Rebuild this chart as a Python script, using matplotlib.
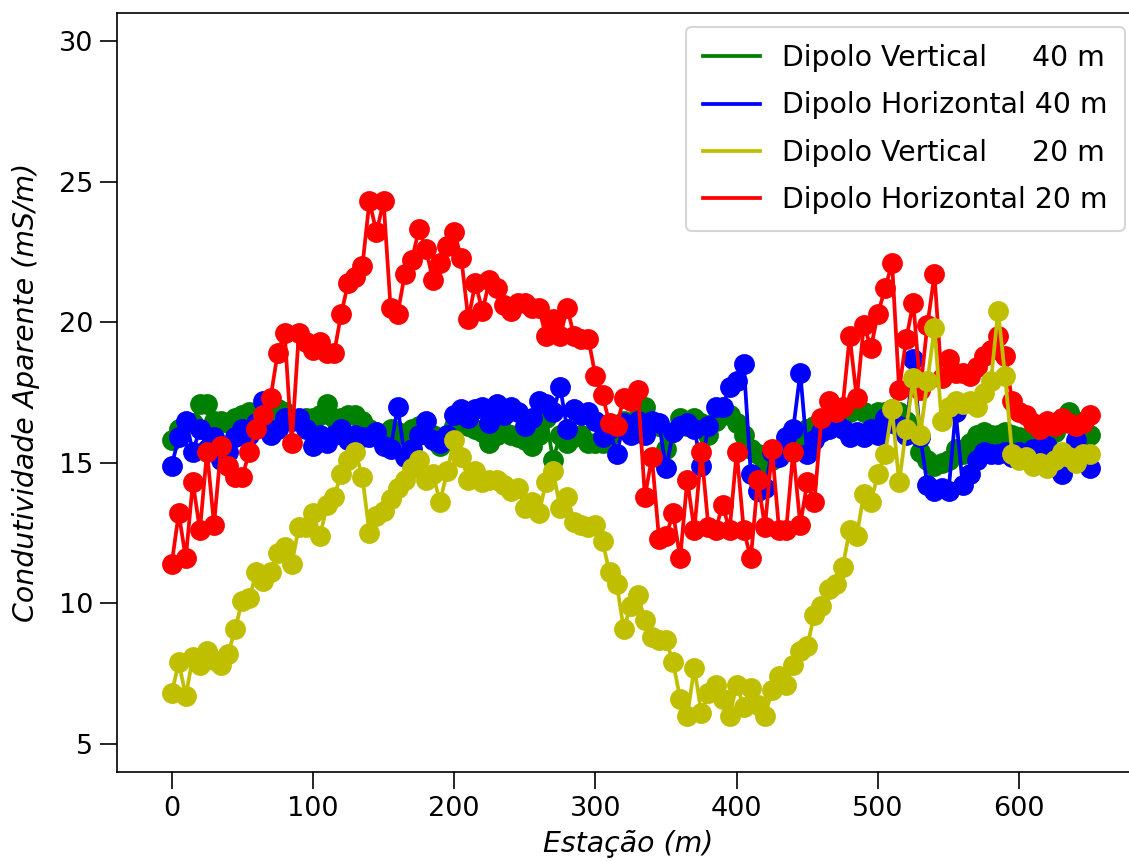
import numpy as np
import matplotlib
matplotlib.use("Agg")
import matplotlib.pyplot as plt
from matplotlib.lines import Line2D

# === DATA ===
estacao = np.arange(0, 655, 5)  # station every 5 m

dv_40 = [15.8, 16.2, 16.4, 16.4, 17.1, 17.1, 16.5, 16.5, 16.4, 16.6,
         16.7, 16.8, 16.7, 16.6, 16.8, 16.9, 16.8, 16.6, 16.5, 16.6,
         16.6, 16.7, 17.1, 16.6, 16.6, 16.7, 16.7, 16.5, 16.2, 16.1,
         16.0, 16.2, 16.1, 16.0, 16.2, 16.3, 16.2, 16.0, 15.6, 16.0,
         16.3, 16.4, 16.3, 16.2, 16.1, 15.7, 16.0, 16.1, 16.0, 15.9,
         15.8, 15.6, 16.0, 16.6, 15.1, 16.0, 15.7, 15.9, 16.0, 15.7,
         15.7, 15.7, 16.0, 16.2, 16.5, 16.3, 16.6, 17.0, 16.4, 16.3,
         15.5, 16.1, 16.6, 16.3, 16.6, 16.4, 16.0, 16.5, 16.7, 16.7,
         16.4, 16.0, 15.5, 15.3, 15.0, 15.1, 15.4, 15.6, 15.8, 16.0,
         16.2, 16.3, 16.5, 16.6, 16.6, 16.7, 16.8, 16.9, 16.8, 16.7,
         16.8, 16.8, 16.9, 16.8, 16.5, 16.2, 15.4, 15.1, 14.9, 15.0,
         15.1, 15.5, 15.3, 15.7, 16.0, 16.1, 16.0, 16.0, 16.1, 16.0,
         15.9, 15.8, 15.8, 15.9, 16.0, 16.1, 16.4, 16.8, 16.5, 16.3,
         16.0]

dh_40 = [14.9, 15.9, 16.5, 15.4, 16.2, 15.5, 15.9, 15.1, 15.4, 15.9,
         16.2, 16.0, 16.4, 17.2, 16.0, 16.2, 16.6, 16.5, 16.6, 16.2,
         15.6, 16.0, 15.7, 16.0, 16.2, 15.8, 16.0, 15.9, 15.9, 16.1,
         15.6, 15.5, 17.0, 15.2, 15.5, 16.0, 16.5, 15.8, 15.7, 16.0,
         16.7, 16.9, 16.6, 16.9, 17.0, 16.4, 17.1, 16.7, 17.0, 16.8,
         16.3, 16.6, 17.2, 17.1, 16.8, 17.7, 16.2, 16.9, 16.7, 16.8,
         16.5, 15.9, 16.2, 15.3, 16.4, 16.0, 16.5, 16.0, 16.5, 16.4,
         14.8, 16.1, 16.3, 16.4, 16.2, 14.9, 16.3, 17.0, 17.0, 17.7,
         17.9, 18.5, 14.6, 14.0, 14.1, 15.4, 15.2, 15.9, 16.2, 18.2,
         15.3, 15.8, 16.1, 16.2, 16.4, 16.2, 15.9, 16.1, 15.9, 16.2,
         16.0, 16.6, 16.4, 16.3, 16.0, 18.7, 15.9, 14.2, 14.0, 14.1,
         14.0, 16.8, 14.2, 14.6, 15.1, 15.4, 15.3, 15.3, 15.4, 15.2,
         15.4, 15.3, 15.5, 15.3, 15.6, 15.1, 14.6, 15.2, 15.8, 15.3,
         14.8]

dv_20 = [6.8, 7.9, 6.7, 8.1, 7.8, 8.3, 8.0, 7.8, 8.2, 9.1,
         10.1, 10.2, 11.1, 10.8, 11.1, 11.8, 12.0, 11.4, 12.7, 12.7,
         13.2, 12.4, 13.5, 13.8, 14.6, 15.1, 15.4, 14.5, 12.5, 13.1,
         13.3, 13.7, 14.1, 14.4, 14.8, 15.1, 14.4, 14.6, 13.6, 14.7,
         15.8, 15.2, 14.4, 14.7, 14.3, 14.4, 14.4, 14.2, 14.0, 14.1,
         13.4, 13.6, 13.2, 14.3, 14.7, 13.4, 13.8, 12.9, 12.8, 12.7,
         12.8, 12.2, 11.1, 10.7, 9.1, 9.9, 10.3, 9.4, 8.8, 8.7,
         8.7, 7.9, 6.6, 6.0, 7.7, 6.1, 6.8, 7.1, 6.6, 6.0,
         7.1, 6.3, 7.0, 6.4, 6.0, 6.9, 7.4, 7.1, 7.8, 8.3,
         8.5, 9.6, 9.9, 10.5, 10.7, 11.3, 12.6, 12.4, 13.9, 13.6,
         14.6, 15.3, 16.9, 14.3, 16.2, 18.0, 16.0, 17.9, 19.8, 16.5,
         17.0, 17.2, 17.1, 17.2, 17.0, 17.5, 17.9, 20.4, 18.1, 15.3,
         15.1, 15.2, 14.9, 15.0, 14.8, 15.1, 15.4, 15.2, 15.0, 15.3,
         15.3]

dh_20 = [11.4, 13.2, 11.6, 14.3, 12.6, 15.4, 12.8, 15.6, 14.9, 14.5,
         14.5, 15.4, 16.2, 16.7, 17.3, 18.9, 19.6, 15.7, 19.6, 19.3,
         19.0, 19.3, 18.9, 18.9, 20.3, 21.4, 21.6, 22.0, 24.3, 23.2,
         24.3, 20.5, 20.3, 21.7, 22.2, 23.3, 22.6, 21.5, 22.1, 22.7,
         23.2, 22.3, 20.1, 21.4, 20.4, 21.5, 21.2, 20.6, 20.4, 20.7,
         20.7, 20.5, 20.5, 19.5, 20.1, 19.5, 20.5, 19.5, 19.4, 19.4,
         18.1, 17.4, 16.4, 16.3, 17.3, 17.2, 17.6, 13.8, 15.2, 12.3,
         12.4, 13.2, 11.6, 14.4, 12.6, 15.4, 12.7, 12.6, 13.5, 12.6,
         15.4, 12.6, 11.6, 14.4, 12.7, 15.5, 12.6, 12.6, 15.4, 12.8,
         14.3, 13.6, 16.6, 17.2, 16.8, 17.0, 19.5, 17.3, 19.9, 19.1,
         20.3, 21.2, 22.1, 17.6, 19.4, 20.7, 17.6, 19.9, 21.7, 18.0,
         18.7, 18.2, 18.2, 18.1, 18.4, 18.8, 19.0, 19.5, 18.8, 17.2,
         16.8, 16.7, 16.4, 16.2, 16.5, 16.3, 16.6, 16.4, 16.3, 16.4,
         16.7]

labels = ["Dipolo Vertical     40 m",
          "Dipolo Horizontal 40 m",
          "Dipolo Vertical     20 m",
          "Dipolo Horizontal 20 m"]
cores = ["g", "b", "y", "r"]

# === PLOT ===
fig = plt.figure(figsize=(1129 / 150, 861 / 150), dpi=150)
ax = fig.add_axes([117 / 1129, 89 / 861, 1022 / 1129, 759 / 861])

estilo = dict(marker="o", markersize=9, linewidth=1.8)
ax.plot(estacao, dv_40, color="g", **estilo)
ax.plot(estacao, dh_40, color="b", **estilo)
ax.plot(estacao, dh_20, color="r", **estilo)
ax.plot(estacao, dv_20, color="y", **estilo)

# legend shows plain lines, no markers
handles = [Line2D([], [], color=c, linewidth=1.8) for c in cores]
ax.legend(handles, labels, loc="upper right", fontsize=13.6,
          labelspacing=0.68, borderpad=0.6, borderaxespad=0.5)

ax.set_xlim(-38.7, 684.8)
ax.set_ylim(4, 31)
ax.set_xticks([0, 100, 200, 300, 400, 500, 600])
ax.set_yticks([5, 10, 15, 20, 25, 30])
ax.tick_params(labelsize=13, length=8)
ax.set_xlabel("Estação (m)", style="italic", fontsize=13.6, labelpad=4)
ax.set_ylabel("Condutividade Aparente (mS/m)", style="italic", fontsize=13.6,
              labelpad=9)

fig.savefig("out.png", dpi=150)
